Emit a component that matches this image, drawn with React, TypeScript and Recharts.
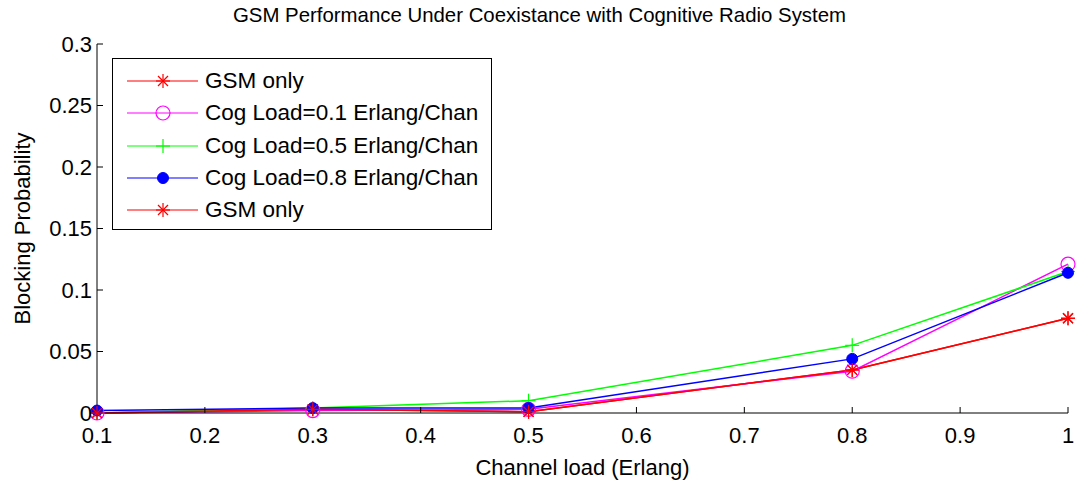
import React from 'react';
import { LineChart, Line, XAxis, YAxis, Legend } from 'recharts';

// channel load on the x axis (Erlang)
const channelLoad = [0.1, 0.3, 0.5, 0.8, 1.0];

// blocking probability for each scenario
const gsmOnly = [0, 0.003, 0.001, 0.035, 0.077];
const cogLoad01 = [0, 0.002, 0.003, 0.034, 0.121];
const cogLoad05 = [0, 0.004, 0.01, 0.055, 0.115];
const cogLoad08 = [0.002, 0.004, 0.004, 0.044, 0.114];

const xTicks = [0.1, 0.2, 0.3, 0.4, 0.5, 0.6, 0.7, 0.8, 0.9, 1];
const yTicks = [0, 0.05, 0.1, 0.15, 0.2, 0.25, 0.3];

const FONT = 'Arial, "Liberation Sans", sans-serif';

const data = channelLoad.map((x, i) => ({
  x,
  gsm: gsmOnly[i],
  cog01: cogLoad01[i],
  cog05: cogLoad05[i],
  cog08: cogLoad08[i],
  gsm2: gsmOnly[i],
}));

type MarkerKind = 'star' | 'circle' | 'plus' | 'dot';

const Marker = ({ kind, cx, cy, color }: { kind: MarkerKind; cx: number; cy: number; color: string }) => {
  if (kind === 'circle') {
    return <circle cx={cx} cy={cy} r={7} fill="none" stroke={color} strokeWidth={1.2} />;
  }
  if (kind === 'dot') {
    return <circle cx={cx} cy={cy} r={5.5} fill={color} stroke={color} />;
  }
  if (kind === 'plus') {
    return (
      <g stroke={color} strokeWidth={1.2}>
        <line x1={cx - 7} y1={cy} x2={cx + 7} y2={cy} />
        <line x1={cx} y1={cy - 7} x2={cx} y2={cy + 7} />
      </g>
    );
  }
  const d = 5;
  return (
    <g stroke={color} strokeWidth={1.2}>
      <line x1={cx - 7} y1={cy} x2={cx + 7} y2={cy} />
      <line x1={cx} y1={cy - 7} x2={cx} y2={cy + 7} />
      <line x1={cx - d} y1={cy - d} x2={cx + d} y2={cy + d} />
      <line x1={cx - d} y1={cy + d} x2={cx + d} y2={cy - d} />
    </g>
  );
};

const series = [
  { key: 'gsm', name: 'GSM only', color: '#ff0000', marker: 'star' as MarkerKind },
  { key: 'cog01', name: 'Cog Load=0.1 Erlang/Chan', color: '#ff00ff', marker: 'circle' as MarkerKind },
  { key: 'cog05', name: 'Cog Load=0.5 Erlang/Chan', color: '#00ff00', marker: 'plus' as MarkerKind },
  { key: 'cog08', name: 'Cog Load=0.8 Erlang/Chan', color: '#0000ff', marker: 'dot' as MarkerKind },
  { key: 'gsm2', name: 'GSM only', color: '#ff0000', marker: 'star' as MarkerKind },
];

const LegendBox = () => (
  <div
    style={{
      width: 378,
      height: 170,
      border: '1px solid #000',
      background: '#fff',
      fontFamily: FONT,
      fontSize: 22.5,
      boxSizing: 'content-box',
    }}
  >
    {series.map((s, i) => (
      <div key={i} style={{ display: 'flex', alignItems: 'center', height: 32.3, marginTop: i === 0 ? 6 : 0 }}>
        <svg width={92} height={32} style={{ flex: 'none' }}>
          <line x1={14} y1={16} x2={85} y2={16} stroke={s.color} strokeWidth={1.2} />
          <Marker kind={s.marker} cx={50} cy={16} color={s.color} />
        </svg>
        <span style={{ whiteSpace: 'nowrap' }}>{s.name}</span>
      </div>
    ))}
  </div>
);

export default function App() {
  const tickStyle = { fontFamily: FONT, fontSize: 22, fill: '#000' };
  return (
    <div style={{ position: 'absolute', left: 0, top: 0, width: 1079, height: 482, background: '#fff' }}>
      <div
        style={{
          position: 'absolute',
          left: 0,
          width: 1079,
          top: 4,
          textAlign: 'center',
          fontFamily: FONT,
          fontSize: 20.4,
          color: '#000',
        }}
      >
        GSM Performance Under Coexistance with Cognitive Radio System
      </div>
      <LineChart width={1079} height={482} data={data} margin={{ top: 44, right: 11, bottom: 0, left: 0 }}>
        <XAxis
          dataKey="x"
          type="number"
          domain={[0.1, 1]}
          ticks={xTicks}
          tickFormatter={(v: number) => String(Math.round(v * 10) / 10)}
          stroke="#000"
          tick={tickStyle}
          tickSize={-6}
          tickMargin={20}
          height={69}
          label={{ value: 'Channel load (Erlang)', position: 'insideBottom', offset: 7, style: tickStyle }}
        />
        <XAxis
          xAxisId="top"
          dataKey="x"
          type="number"
          orientation="top"
          domain={[0.1, 1]}
          ticks={xTicks}
          tickFormatter={() => ''}
          stroke="#000"
          tickSize={-6}
          height={0}
        />
        <YAxis
          type="number"
          domain={[0, 0.3]}
          ticks={yTicks}
          tickFormatter={(v: number) => String(Math.round(v * 100) / 100)}
          stroke="#000"
          tick={tickStyle}
          tickSize={-6}
          tickMargin={11}
          width={97}
          label={{
            value: 'Blocking Probability',
            angle: -90,
            position: 'insideLeft',
            offset: 22,
            style: { ...tickStyle, textAnchor: 'middle' },
          }}
        />
        <YAxis
          yAxisId="right"
          orientation="right"
          type="number"
          domain={[0, 0.3]}
          ticks={yTicks}
          tickFormatter={() => ''}
          stroke="#000"
          tickSize={-6}
          width={0}
        />
        <Legend
          content={<LegendBox />}
          layout="vertical"
          align="center"
          verticalAlign="middle"
          wrapperStyle={{ position: 'absolute', left: 112, top: 58, width: 'auto', height: 'auto' }}
        />
        {series.map((s) => (
          <Line
            key={s.key}
            dataKey={s.key}
            name={s.name}
            stroke={s.color}
            strokeWidth={1.5}
            isAnimationActive={false}
            dot={(p: any) => <Marker key={`${s.key}-${p.index}`} kind={s.marker} cx={p.cx} cy={p.cy} color={s.color} />}
            activeDot={false}
          />
        ))}
      </LineChart>
    </div>
  );
}
